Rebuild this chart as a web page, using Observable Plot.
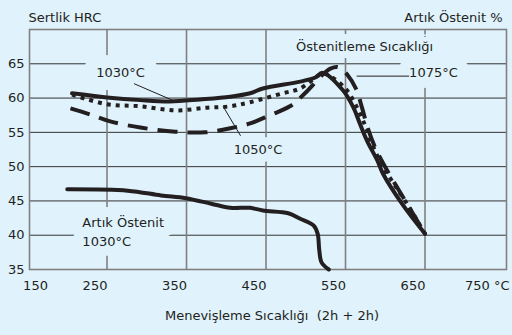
<!DOCTYPE html>
<html>
<head>
<meta charset="utf-8">
<script src="https://cdn.jsdelivr.net/npm/d3@7"></script>
<script src="https://cdn.jsdelivr.net/npm/@observablehq/plot@0.6"></script>
<style>
  html, body { margin: 0; padding: 0; background: #e0f2fc; }
  svg { display: block; }
</style>
</head>
<body>
<div id="chart"></div>
<script>
// Tempering temperature (°C) and hardness (HRC)
const temp1030 = [206, 250, 292, 329, 367, 405, 430, 446, 493, 512, 521, 547, 560, 568, 577, 590, 597, 621, 650];
const hrc1030  = [60.7, 60.1, 59.7, 59.5, 59.8, 60.2, 60.7, 61.4, 62.4, 63.0, 63.7, 61.1, 58.6, 56.3, 53.8, 50.9, 49.0, 44.6, 40.2];

const temp1050 = [206, 250, 292, 336, 376, 405, 430, 471, 493, 516, 523, 549, 565, 575, 583, 596, 612, 631, 650];
const hrc1050  = [60.5, 59.1, 58.8, 58.2, 58.6, 58.8, 59.4, 60.7, 61.4, 63.3, 63.6, 61.5, 58.5, 55.9, 53.4, 50.2, 47.3, 43.9, 40.2];

const temp1075 = [204, 229, 254, 292, 336, 373, 405, 430, 455, 480, 499, 521, 531, 541, 553, 563, 571, 578, 588, 604, 619, 634, 650];
const hrc1075  = [58.5, 57.6, 56.6, 55.7, 55.1, 55.0, 55.6, 56.3, 57.5, 58.8, 60.7, 63.4, 64.3, 64.5, 63.3, 61.4, 58.5, 55.6, 52.6, 49.1, 46.2, 43.3, 40.2];

// Retained austenite (drawn in the same plotting space, no own ticks)
const tempRA = [200, 276, 318, 349, 381, 405, 430, 446, 478, 493, 510, 515, 517, 520, 529];
const valRA  = [46.7, 46.5, 45.8, 45.4, 44.6, 44.0, 44.0, 43.6, 43.2, 42.4, 41.4, 40.2, 37.8, 36.0, 35.0];

const xTicks = [150, 250, 350, 450, 550, 650, 750];
const xTickLabels = ["150", "250", "350", "450", "550", "650", "750 °C"];
const xGrid = [250, 350, 450, 550, 650];
const yTicks = [35, 40, 45, 50, 55, 60, 65];
const yGrid = [40, 45, 50, 55, 60, 65];

// annotations (centered)
const labelText = ["1030°C", "1050°C", "Östenitleme Sıcaklığı"];
const labelT    = [267, 440, 574];
const labelH    = [63.7, 52.5, 67.5];
const labelHalo = [26, 16, 14];
// annotations (left aligned)
const label2Text = ["1075°C", "Artık Östenit\n1030°C"];
const label2T    = [630, 219];
const label2H    = [63.9, 40.76];
const label2Halo = [22, 20];

// leader lines
const leadT1 = [284, 396, 564];
const leadH1 = [62.1, 58.8, 63.2];
const leadT2 = [334, 418, 630];
const leadH2 = [59.6, 54.5, 63.2];

const bg = "#e0f2fc";
const ink = "#231f20";
const font = "DejaVu Sans, Verdana, sans-serif";

const rows = (T, H) => T.map((t, i) => ({T: t, H: H[i]}));
const labels = labelText.map((s, i) => ({s, T: labelT[i], H: labelH[i], halo: labelHalo[i]}));
const labels2 = label2Text.map((s, i) => ({s, T: label2T[i], H: label2H[i], halo: label2Halo[i]}));
const leaders = leadT1.map((t, i) => ({x1: t, y1: leadH1[i], x2: leadT2[i], y2: leadH2[i]}));
const xt = xTicks.map((v, i) => ({v, s: xTickLabels[i]}));

const haloMarks = [
  ...labels.map(d => Plot.text([d], {x: "T", y: "H", text: "s", fontSize: 13, fontFamily: font,
      fill: bg, stroke: bg, strokeWidth: d.halo, strokeLinejoin: "round"})),
  ...labels2.map(d => Plot.text([d], {x: "T", y: "H", text: "s", fontSize: 13, fontFamily: font,
      textAnchor: "start", lineHeight: 1.46, fill: bg, stroke: bg, strokeWidth: d.halo, strokeLinejoin: "round"}))
];

const chart = Plot.plot({
  width: 512,
  height: 335,
  marginTop: 29,
  marginBottom: 66,
  marginLeft: 29,
  marginRight: 6,
  style: {background: bg, fontFamily: font, fontSize: "13px", color: ink, overflow: "visible"},
  x: {domain: [152.5, 752.5], axis: null},
  y: {domain: [35, 70], axis: null},
  marks: [
    Plot.ruleY(yGrid, {stroke: "#333", strokeWidth: 1}),
    Plot.ruleX(xGrid, {stroke: "#808080", strokeWidth: 1.6}),
    Plot.frame({stroke: "#808080", strokeWidth: 1.6}),
    ...haloMarks,
    Plot.link(leaders, {x1: "x1", y1: "y1", x2: "x2", y2: "y2", stroke: ink, strokeWidth: 1}),
    Plot.line(rows(tempRA, valRA), {x: "T", y: "H", stroke: ink, strokeWidth: 4, curve: "catmull-rom"}),
    Plot.line(rows(temp1075, hrc1075), {x: "T", y: "H", stroke: ink, strokeWidth: 4, strokeDasharray: "20,10", curve: "catmull-rom", strokeLinecap: "butt"}),
    Plot.line(rows(temp1050, hrc1050), {x: "T", y: "H", stroke: ink, strokeWidth: 4, strokeDasharray: "4,5", curve: "catmull-rom", strokeLinecap: "butt"}),
    Plot.line(rows(temp1030, hrc1030), {x: "T", y: "H", stroke: ink, strokeWidth: 4, curve: "catmull-rom"}),
    Plot.text(labels, {x: "T", y: "H", text: "s", fontSize: 13, fill: ink}),
    Plot.text(labels2, {x: "T", y: "H", text: "s", fontSize: 13, fill: ink, textAnchor: "start", lineHeight: 1.46}),
    // y tick labels
    Plot.axisY(yTicks, {tickSize: 0, tickPadding: 5, fontSize: 13, fill: ink, label: null}),
    // x tick labels
    Plot.text(xt.slice(0, 1), {x: "v", text: "s", frameAnchor: "bottom", dy: 20, dx: 8, fontSize: 13, fill: ink}),
    Plot.text(xt.slice(1, -1), {x: "v", text: "s", frameAnchor: "bottom", dy: 20, dx: -12, fontSize: 13, fill: ink}),
    Plot.text(xt.slice(-1), {x: "v", text: "s", frameAnchor: "bottom", dy: 20, dx: 5, textAnchor: "end", fontSize: 13, fill: ink}),
    // titles
    Plot.text(["Sertlik HRC"], {frameAnchor: "top-left", dy: -17, dx: -1, textAnchor: "start", fontSize: 13, fill: ink}),
    Plot.text(["Artık Östenit %"], {frameAnchor: "top-right", dy: -17, dx: -4, textAnchor: "end", fontSize: 13, fill: ink}),
    Plot.text(["Menevişleme Sıcaklığı  (2h + 2h)"], {frameAnchor: "bottom", dy: 50, dx: 4, fontSize: 13, fill: ink})
  ]
});
document.getElementById("chart").append(chart);
</script>
</body>
</html>
